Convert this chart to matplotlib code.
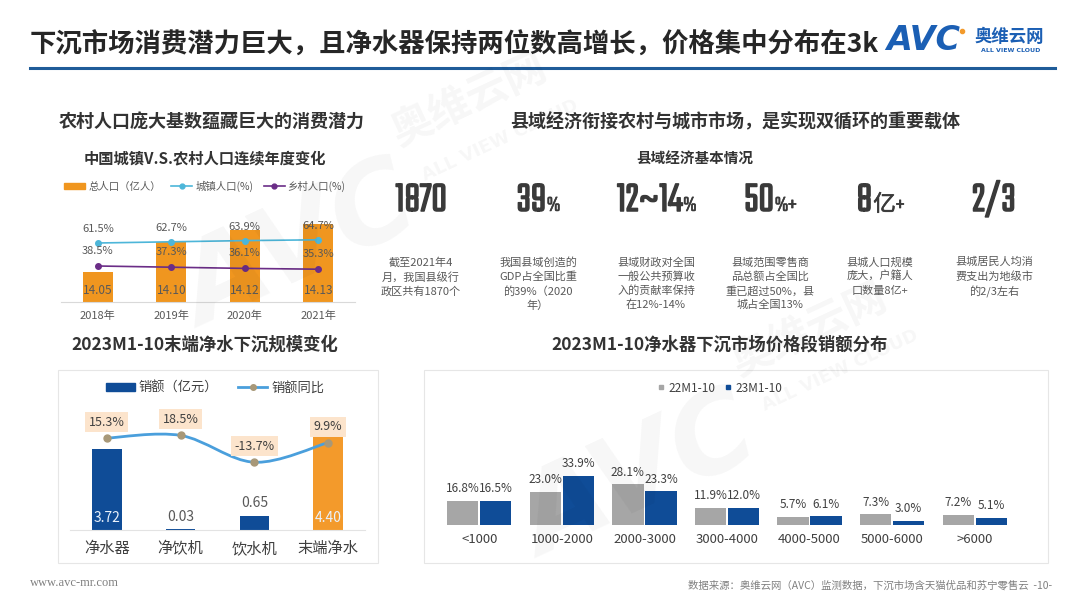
import numpy as np
import matplotlib
matplotlib.use('Agg')
import matplotlib.pyplot as plt
import matplotlib.patheffects as pe
from matplotlib import font_manager
from matplotlib.path import Path
from matplotlib.patches import PathPatch, Rectangle
from matplotlib.lines import Line2D

plt.rcParams['font.family'] = ['Noto Sans CJK SC', 'DejaVu Sans']

# ---- 数据 ----
years = ['2018年', '2019年', '2020年', '2021年']
total_pop = [14.05, 14.10, 14.12, 14.13]
urban_pct = [61.5, 62.7, 63.9, 64.7]
rural_pct = [38.5, 37.3, 36.1, 35.3]

stat_values = ['1870', '39', '12~14', '50', '8', '2/3']
stat_suffix = ['', '%', '%', '%+', '亿+', '']
stat_notes = ['截至2021年4\n月，我国县级行\n政区共有1870个',
              '我国县域创造的\nGDP占全国比重\n的39%（2020\n年）',
              '县域财政对全国\n一般公共预算收\n入的贡献率保持\n在12%-14%',
              '县域范围零售商\n品总额占全国比\n重已超过50%，县\n城占全国13%',
              '县城人口规模\n庞大，户籍人\n口数量8亿+',
              '县城居民人均消\n费支出为地级市\n的2/3左右']

products = ['净水器', '净饮机', '饮水机', '末端净水']
sales = [3.72, 0.03, 0.65, 4.40]
sales_yoy = [15.3, 18.5, -13.7, 9.9]

price_bands = ['<1000', '1000-2000', '2000-3000', '3000-4000', '4000-5000', '5000-6000', '>6000']
share_22 = [16.8, 23.0, 28.1, 11.9, 5.7, 7.3, 7.2]
share_23 = [16.5, 33.9, 23.3, 12.0, 6.1, 3.0, 5.1]

W, H = 1080, 608
fig = plt.figure(figsize=(W / 100, H / 100), dpi=100)
fig.patch.set_facecolor('white')


def box(x0, y0, x1, y1):
    return [x0 / W, 1 - y1 / H, (x1 - x0) / W, (y1 - y0) / H]


def ftxt(x, y, s, **kw):
    return fig.text(x / W, 1 - y / H, s, **kw)


names = {f.name for f in font_manager.fontManager.ttflist}
num_font = 'DejaVu Sans'
for cand in ['Saira Extra Condensed', 'Teko', 'Oswald', 'Antonio', 'Barlow Condensed',
             'Roboto Condensed', 'Liberation Sans Narrow']:
    if cand in names:
        num_font = cand
        break

DARK = '#333333'
GREY = '#595959'
BLUE = '#0F4C97'
ORANGE = '#F39A2B'
NUM_C = '#3A3A3A'

# 水印
for (x, y) in [(300, 250), (640, 480)]:
    ftxt(x, y, 'AVC', fontsize=80, fontweight='bold', fontstyle='italic', color='#000000',
         alpha=0.035, rotation=25, ha='center', va='center', family='DejaVu Sans')
    ftxt(x + 170, y - 150, '奥维云网', fontsize=30, fontweight='bold', color='#000000',
         alpha=0.035, rotation=25, ha='center', va='center')
    ftxt(x + 200, y - 110, 'ALL VIEW CLOUD', fontsize=13, fontweight='bold', color='#000000',
         alpha=0.035, rotation=25, ha='center', va='center', family='DejaVu Sans')

# 标题
ftxt(30, 45, '下沉市场消费潜力巨大，且净水器保持两位数高增长，价格集中分布在3k',
     fontsize=19, fontweight='bold', color='#262626', va='center')
fig.add_artist(Line2D([30 / W, 1055 / W], [1 - 68 / H, 1 - 68 / H], color='#1F5C99', lw=2.2))

# logo
ftxt(886, 41, 'AVC', fontsize=24, fontweight='heavy', fontstyle='italic', color='#1B5FB4',
     va='center', family='DejaVu Sans', zorder=3,
     bbox=dict(facecolor='white', edgecolor='none', pad=1))
fig.add_artist(Line2D([962 / W], [1 - 31 / H], marker='o', ms=3, color=ORANGE, ls='none', zorder=5))
ftxt(1009, 37, '奥维云网', fontsize=12.5, fontweight='bold', color='#1B5FB4', ha='center', va='center')
ftxt(1011, 50, 'ALL VIEW CLOUD', fontsize=4.5, fontweight='bold', color='#1B5FB4', ha='center',
     va='center', family='DejaVu Sans')

# 小节标题
ftxt(212, 122, '农村人口庞大基数蕴藏巨大的消费潜力', fontsize=13, fontweight='bold', color=DARK,
     ha='center', va='center')
ftxt(735, 122, '县域经济衔接农村与城市市场，是实现双循环的重要载体', fontsize=13, fontweight='bold',
     color=DARK, ha='center', va='center')

# ---- 图1：人口 ----
ftxt(205, 158, '中国城镇V.S.农村人口连续年度变化', fontsize=11, fontweight='bold', color=DARK,
     ha='center', va='center')
ax1 = fig.add_axes(box(61, 200, 355, 302))
ax1.patch.set_alpha(0)
x = np.arange(len(years))
ax1.bar(x, total_pop, width=0.41, color='#F0961F', zorder=2)
ax1.set_ylim(14.0, 14.17)
ax1.set_xlim(-0.5, 3.5)
for i, v in enumerate(total_pop):
    ax1.text(i, 14.0 + 0.02, f'{v:.2f}', ha='center', va='center', fontsize=8.5, color=GREY, zorder=4)
ax1.set_xticks(x)
ax1.set_xticklabels(years, fontsize=8, color=GREY)
ax1.tick_params(axis='x', length=0, pad=6)
ax1.set_yticks([])
for s in ['top', 'left', 'right']:
    ax1.spines[s].set_visible(False)
ax1.spines['bottom'].set_color('#D9D9D9')

ax1b = ax1.twinx()
ax1b.set_ylim(2.5, 104.5)
ax1b.plot(x, urban_pct, color='#4DB6D9', lw=1.2, marker='o', ms=4, zorder=3)
ax1b.plot(x, rural_pct, color='#6B2D87', lw=1.2, marker='o', ms=4, zorder=3)
for i in range(len(years)):
    ax1b.annotate(f'{urban_pct[i]}%', (i, urban_pct[i]), xytext=(0, 10), textcoords='offset points',
                  ha='center', va='center', fontsize=8, color=GREY)
    ax1b.annotate(f'{rural_pct[i]}%', (i, rural_pct[i]), xytext=(0, 11), textcoords='offset points',
                  ha='center', va='center', fontsize=8, color=GREY)
ax1b.set_yticks([])
for s in ax1b.spines.values():
    s.set_visible(False)

h1 = [Rectangle((0, 0), 1, 1, color='#F0961F'),
      Line2D([], [], color='#4DB6D9', lw=1.2, marker='o', ms=3.5),
      Line2D([], [], color='#6B2D87', lw=1.2, marker='o', ms=3.5)]
fig.legend(h1, ['总人口（亿人）', '城镇人口(%)', '乡村人口(%)'], loc='center',
           bbox_to_anchor=(205 / W, 1 - 186 / H), ncol=3, frameon=False, fontsize=7.5,
           labelcolor=GREY, handlelength=2, handleheight=0.5, columnspacing=1.0, handletextpad=0.3)

# ---- 图2：县域经济 ----
ftxt(695, 158, '县域经济基本情况', fontsize=10.5, fontweight='bold', color=DARK, ha='center', va='center')
stat_x = [421, 538, 656, 770, 880, 994]
renderer = fig.canvas.get_renderer()
# 按 "1870" 的宽度约 52px 确定大数字字号
probe = ftxt(0, 0, '1870', fontsize=30, fontweight='bold', family=[num_font, 'DejaVu Sans'])
num_size = float(np.clip(30 * 52 / probe.get_window_extent(renderer).width, 24, 46))
probe.remove()
thick = [pe.withStroke(linewidth=1.1, foreground=NUM_C)]
thin = [pe.withStroke(linewidth=0.4, foreground=NUM_C)]
base_y = 211
for i in range(len(stat_values)):
    t1 = ftxt(0, base_y, stat_values[i], fontsize=num_size, fontweight='bold',
              family=[num_font, 'Noto Sans CJK SC'], color=NUM_C, va='baseline', ha='left',
              path_effects=thick)
    w1 = t1.get_window_extent(renderer).width
    w2 = 0
    t2 = None
    if stat_suffix[i]:
        t2 = ftxt(0, base_y, stat_suffix[i], fontsize=num_size * 0.52,
                  family=[num_font, 'Noto Sans CJK SC'], color=NUM_C, va='baseline', ha='left',
                  path_effects=thin)
        w2 = t2.get_window_extent(renderer).width
    x0 = stat_x[i] - (w1 + w2) / 2
    t1.set_position((x0 / W, 1 - base_y / H))
    if t2 is not None:
        t2.set_position(((x0 + w1 + 1) / W, 1 - base_y / H))
    ftxt(stat_x[i], 257, stat_notes[i], fontsize=8, color=GREY, ha='center', va='top', linespacing=1.42)

# ---- 面板框 ----
for (a, b, c, d) in [(58, 370, 378, 563), (424, 370, 1048, 563)]:
    fig.add_artist(Rectangle((a / W, 1 - d / H), (c - a) / W, (d - b) / H, transform=fig.transFigure,
                             facecolor='white', edgecolor='#E6E6E6', lw=0.8, zorder=0))

# ---- 图3：末端净水 ----
ftxt(205, 345, '2023M1-10末端净水下沉规模变化', fontsize=12.5, fontweight='bold', color=DARK,
     ha='center', va='center')
ax3 = fig.add_axes(box(70, 410, 365, 530))
ax3.patch.set_alpha(0)
x3 = np.arange(len(products))
bar_colors = [BLUE, BLUE, BLUE, ORANGE]
ax3.bar(x3, sales, width=0.4, color=bar_colors, zorder=2)
ax3.set_ylim(0, 5.5)
ax3.set_xlim(-0.5, 3.5)
for i, v in enumerate(sales):
    if v > 2:
        ax3.annotate(f'{v:.2f}', (i, 0), xytext=(0, 9), textcoords='offset points', ha='center',
                     va='center', fontsize=10, color='#EAF2FB', zorder=4)
    else:
        ax3.annotate(f'{v:.2f}', (i, v), xytext=(0, 9), textcoords='offset points', ha='center',
                     va='center', fontsize=10, color=GREY, zorder=4)
ax3.set_xticks(x3)
ax3.set_xticklabels(products, fontsize=11, color='#404040')
ax3.tick_params(axis='x', length=0, pad=7)
ax3.set_yticks([])
for s in ['top', 'left', 'right']:
    ax3.spines[s].set_visible(False)
ax3.spines['bottom'].set_color('#E3E3E3')

ax3b = ax3.twinx()
ax3b.set_ylim(-95, 49)
# 平滑折线（三次贝塞尔）
pts = np.column_stack([x3, sales_yoy]).astype(float)
ext = np.vstack([pts[0], pts, pts[-1]])
verts = [tuple(pts[0])]
codes = [Path.MOVETO]
for k in range(len(pts) - 1):
    p0, p1, p2, p3 = ext[k], ext[k + 1], ext[k + 2], ext[k + 3]
    verts += [tuple(p1 + (p2 - p0) / 6), tuple(p2 - (p3 - p1) / 6), tuple(p2)]
    codes += [Path.CURVE4] * 3
ax3b.add_patch(PathPatch(Path(verts, codes), facecolor='none', edgecolor='#4A9FDC', lw=2,
                         transform=ax3b.transData, zorder=3))
ax3b.plot(x3, sales_yoy, ls='none', marker='o', ms=5, color='#A89878', zorder=4)
for i, v in enumerate(sales_yoy):
    ax3b.annotate(f'{v}%', (i, v), xytext=(0, 11.5), textcoords='offset points', ha='center',
                  va='center', fontsize=9, color='#404040', zorder=5,
                  bbox=dict(facecolor='#FCE4CC', edgecolor='none', pad=2.5))
ax3b.set_yticks([])
for s in ax3b.spines.values():
    s.set_visible(False)

h3 = [Rectangle((0, 0), 1, 1, color=BLUE),
      Line2D([], [], color='#4A9FDC', lw=2, marker='o', ms=4, markerfacecolor='#A89878',
             markeredgecolor='#A89878')]
fig.legend(h3, ['销额（亿元）', '销额同比'], loc='center', bbox_to_anchor=(215 / W, 1 - 388 / H),
           ncol=2, frameon=False, fontsize=9.5, labelcolor='#404040', handlelength=2.2,
           handleheight=0.5, columnspacing=1.5, handletextpad=0.3)

# ---- 图4：价格段 ----
ftxt(720, 345, '2023M1-10净水器下沉市场价格段销额分布', fontsize=12.5, fontweight='bold', color=DARK,
     ha='center', va='center')
ax4 = fig.add_axes(box(438, 445, 1016, 525))
ax4.patch.set_alpha(0)
x4 = np.arange(len(price_bands))
ax4.bar(x4 - 0.2, share_22, width=0.38, color='#A6A6A6', zorder=2)
ax4.bar(x4 + 0.2, share_23, width=0.38, color=BLUE, zorder=2)
for i in range(len(price_bands)):
    ax4.annotate(f'{share_22[i]:.1f}%', (i - 0.2, share_22[i]), xytext=(0, 4),
                 textcoords='offset points', ha='center', va='bottom', fontsize=8.5, color='#404040')
    ax4.annotate(f'{share_23[i]:.1f}%', (i + 0.2, share_23[i]), xytext=(0, 4),
                 textcoords='offset points', ha='center', va='bottom', fontsize=8.5, color='#404040')
ax4.set_ylim(0, 55)
ax4.set_xlim(-0.5, 6.5)
ax4.set_xticks(x4)
ax4.set_xticklabels(price_bands, fontsize=9.5, color='#404040')
ax4.tick_params(axis='x', length=0, pad=6)
ax4.set_yticks([])
for s in ax4.spines.values():
    s.set_visible(False)

h4 = [Line2D([], [], ls='none', marker='s', ms=3.5, color='#A6A6A6'),
      Line2D([], [], ls='none', marker='s', ms=3.5, color=BLUE)]
fig.legend(h4, ['22M1-10', '23M1-10'], loc='center', bbox_to_anchor=(720 / W, 1 - 388 / H), ncol=2,
           frameon=False, fontsize=8.5, labelcolor='#404040', handlelength=0.6, columnspacing=0.8,
           handletextpad=0.3)

# 页脚
ftxt(30, 583, 'www.avc-mr.com', fontsize=9, color='#808080', family='Liberation Serif', va='center')
ftxt(1052, 585, '数据来源：奥维云网（AVC）监测数据，下沉市场含天猫优品和苏宁零售云  -10-', fontsize=7.5,
     color='#808080', ha='right', va='center')

fig.savefig('out.png', dpi=100)
